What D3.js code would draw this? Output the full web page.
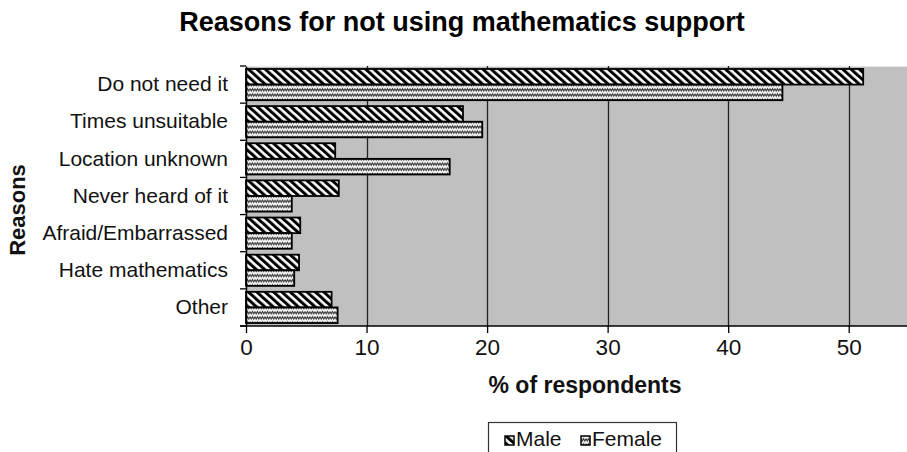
<!DOCTYPE html>
<html>
<head>
<meta charset="utf-8">
<script src="https://cdnjs.cloudflare.com/ajax/libs/d3/7.8.5/d3.min.js"></script>
<style>
  html, body { margin: 0; padding: 0; background: #fff; }
  svg { display: block; font-family: Arial, "Liberation Sans", sans-serif; }
</style>
</head>
<body>
<svg id="chart" width="907" height="452"></svg>
<script>
// Survey: reasons students gave for not using mathematics support (%)
const reasons = ["Do not need it", "Times unsuitable", "Location unknown", "Never heard of it",
                 "Afraid/Embarrassed", "Hate mathematics", "Other"];
const seriesNames = ["Male", "Female"];
const maleValues = [51.2, 18.0, 7.4, 7.7, 4.5, 4.4, 7.1];
const femaleValues = [44.5, 19.6, 16.9, 3.8, 3.8, 4.0, 7.6];
const xTicks = [0, 10, 20, 30, 40, 50];

const svg = d3.select("#chart");
const W = 907, H = 452;
const plot = { left: 246, right: 909, top: 66, bottom: 326 };
const FONT = "Arial, 'Liberation Sans', sans-serif";

// Fill patterns: hatched for male, zigzag for female
const defs = svg.append("defs");
const hatch = defs.append("pattern")
  .attr("id", "pat-male")
  .attr("patternUnits", "userSpaceOnUse")
  .attr("width", 5.6).attr("height", 5.6)
  .attr("patternTransform", "rotate(-48)");
hatch.append("rect").attr("width", 5.6).attr("height", 5.6).attr("fill", "#fff");
hatch.append("rect").attr("width", 3).attr("height", 5.6).attr("fill", "#000");

const zig = defs.append("pattern")
  .attr("id", "pat-female")
  .attr("patternUnits", "userSpaceOnUse")
  .attr("width", 5).attr("height", 5.2)
  .attr("y", 0.5);
zig.append("rect").attr("width", 5).attr("height", 5.2).attr("fill", "#f4f4f4");
zig.append("path")
  .attr("d", "M0,1.4 L1.25,3.6 L2.5,1.4 L3.75,3.6 L5,1.4")
  .attr("fill", "none").attr("stroke", "#3a3a3a").attr("stroke-width", 1.1);

const fills = { Male: "url(#pat-male)", Female: "url(#pat-female)" };

// Scales
const x = d3.scaleLinear().domain([0, 55]).range([plot.left, plot.right]);
const y = d3.scaleBand().domain(reasons).range([plot.top, plot.bottom]).paddingInner(0).paddingOuter(0);
const ySub = d3.scaleBand().domain(seriesNames)
  .range([0, y.bandwidth()]).paddingInner(0).paddingOuter(0.19);

// Plot background
svg.append("rect")
  .attr("x", plot.left).attr("y", plot.top)
  .attr("width", plot.right - plot.left).attr("height", plot.bottom - plot.top)
  .attr("fill", "#c0c0c0");
svg.append("line")
  .attr("x1", plot.left).attr("x2", plot.right)
  .attr("y1", plot.top + 0.5).attr("y2", plot.top + 0.5)
  .attr("stroke", "#e6e6e6").attr("stroke-width", 1);

// Vertical gridlines
svg.append("g")
  .selectAll("line")
  .data(xTicks.filter(d => d > 0))
  .join("line")
  .attr("x1", d => Math.round(x(d)) + 0.5).attr("x2", d => Math.round(x(d)) + 0.5)
  .attr("y1", plot.top).attr("y2", plot.bottom)
  .attr("stroke", "#222").attr("stroke-width", 1.3);

// Bars
const rows = reasons.map((r, i) => ({ reason: r, Male: maleValues[i], Female: femaleValues[i] }));
const group = svg.append("g")
  .selectAll("g")
  .data(rows)
  .join("g")
  .attr("transform", d => `translate(0,${y(d.reason)})`);
group.selectAll("rect")
  .data(d => seriesNames.map(s => ({ key: s, value: d[s] })))
  .join("rect")
  .attr("x", x(0))
  .attr("y", d => ySub(d.key))
  .attr("width", d => x(d.value) - x(0))
  .attr("height", ySub.bandwidth())
  .attr("fill", d => fills[d.key])
  .attr("stroke", "#000")
  .attr("stroke-width", 1.8);

// X axis
const xAxis = svg.append("g")
  .attr("transform", `translate(0,${plot.bottom})`)
  .call(d3.axisBottom(x).tickValues(xTicks).tickSize(7).tickSizeOuter(0).tickPadding(6));
xAxis.select(".domain").attr("stroke", "#000").attr("stroke-width", 1.5)
  .attr("d", `M${plot.left - 6},0H${W}`);
xAxis.selectAll(".tick line").attr("stroke", "#000").attr("stroke-width", 1.3);
xAxis.selectAll(".tick text")
  .attr("fill", "#111").attr("font-size", 22.5)
  .attr("font-family", FONT);

// Y axis
const yAxis = svg.append("g")
  .attr("transform", `translate(${plot.left},0)`)
  .call(d3.axisLeft(y).tickSize(0).tickPadding(18));
yAxis.select(".domain").attr("stroke", "#000").attr("stroke-width", 1.5);
yAxis.selectAll(".tick text")
  .attr("fill", "#111").attr("font-size", 21)
  .attr("font-family", FONT);
// Separator ticks between categories
svg.append("g")
  .selectAll("line")
  .data(reasons.map(r => y(r)).concat([plot.bottom]))
  .join("line")
  .attr("x1", plot.left - 6).attr("x2", plot.left)
  .attr("y1", d => d).attr("y2", d => d)
  .attr("stroke", "#000").attr("stroke-width", 1.3);

// Titles
svg.append("text")
  .attr("x", 462).attr("y", 31)
  .attr("text-anchor", "middle")
  .attr("font-size", 27).attr("font-weight", "bold").attr("fill", "#000")
  .text("Reasons for not using mathematics support");

svg.append("text")
  .attr("x", 585).attr("y", 393)
  .attr("text-anchor", "middle")
  .attr("font-size", 23).attr("font-weight", "bold").attr("fill", "#111")
  .text("% of respondents");

svg.append("text")
  .attr("transform", `translate(25,210) rotate(-90)`)
  .attr("text-anchor", "middle")
  .attr("font-size", 22).attr("font-weight", "bold").attr("fill", "#111")
  .text("Reasons");

// Legend
const legend = svg.append("g");
legend.append("rect")
  .attr("x", 488.5).attr("y", 422.5).attr("width", 188).attr("height", 40)
  .attr("fill", "#fff").attr("stroke", "#333").attr("stroke-width", 1.2);
const legendX = [505, 581];
const items = legend.selectAll("g.item")
  .data(seriesNames)
  .join("g")
  .attr("class", "item")
  .attr("transform", (d, i) => `translate(${legendX[i]},0)`);
items.append("rect")
  .attr("x", 0).attr("y", 436).attr("width", 9).attr("height", 9)
  .attr("fill", d => fills[d]).attr("stroke", "#000").attr("stroke-width", 1.5);
items.append("text")
  .attr("x", 11).attr("y", 446)
  .attr("font-size", 21).attr("fill", "#111")
  .text(d => d);
</script>
</body>
</html>
